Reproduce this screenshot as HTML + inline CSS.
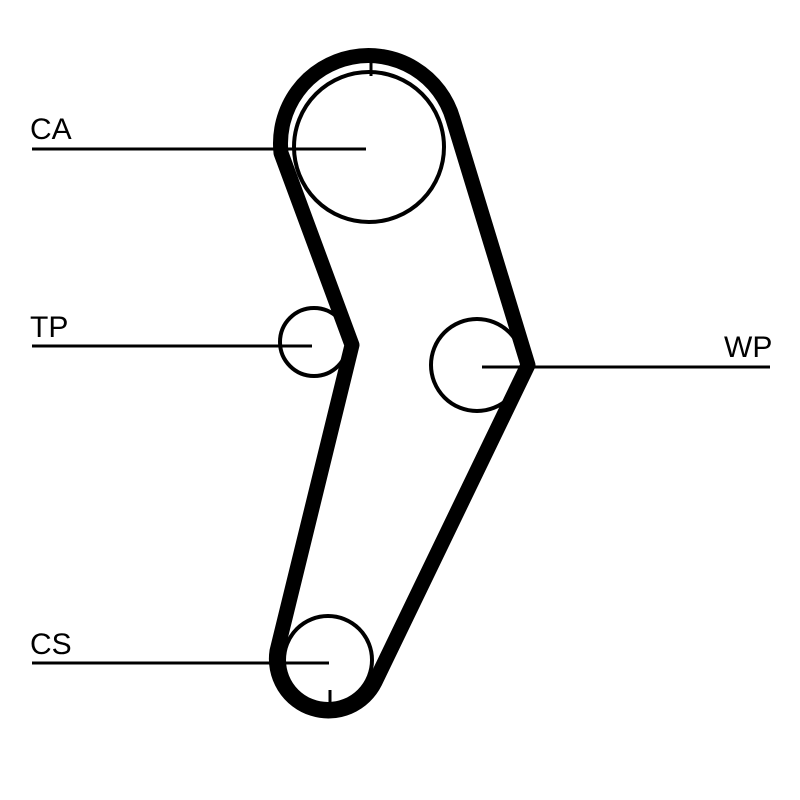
<!DOCTYPE html>
<html><head><style>body{margin:0;background:#fff}svg{display:block}</style></head><body>
<svg width="800" height="800" viewBox="0 0 800 800" xmlns="http://www.w3.org/2000/svg">
<g fill="none" stroke="#000">
<circle cx="369" cy="147" r="75" stroke-width="4"/>
<circle cx="314" cy="342" r="34" stroke-width="4"/>
<circle cx="477" cy="365" r="46" stroke-width="4"/>
<circle cx="328" cy="660" r="44" stroke-width="4"/>
<path d="M281 153 A88 88 0 0 1 453 119 L528 365 L375 682 A52 52 0 0 1 277 651 L352 345 Z" stroke-width="15" stroke-linejoin="round"/>
<g stroke-width="3">
<line x1="32" y1="149" x2="366" y2="149"/>
<line x1="32" y1="346" x2="312" y2="346"/>
<line x1="482" y1="367" x2="770" y2="367"/>
<line x1="32" y1="663" x2="329" y2="663"/>
<line x1="371" y1="62" x2="371" y2="76"/>
<line x1="330" y1="690" x2="330" y2="704"/>
</g>
</g>
<g font-family="Liberation Sans, sans-serif" font-size="30" fill="#000">
<text x="30" y="139">CA</text>
<text x="30" y="337">TP</text>
<text x="724" y="357">WP</text>
<text x="30" y="654">CS</text>
</g>
</svg>
</body></html>
